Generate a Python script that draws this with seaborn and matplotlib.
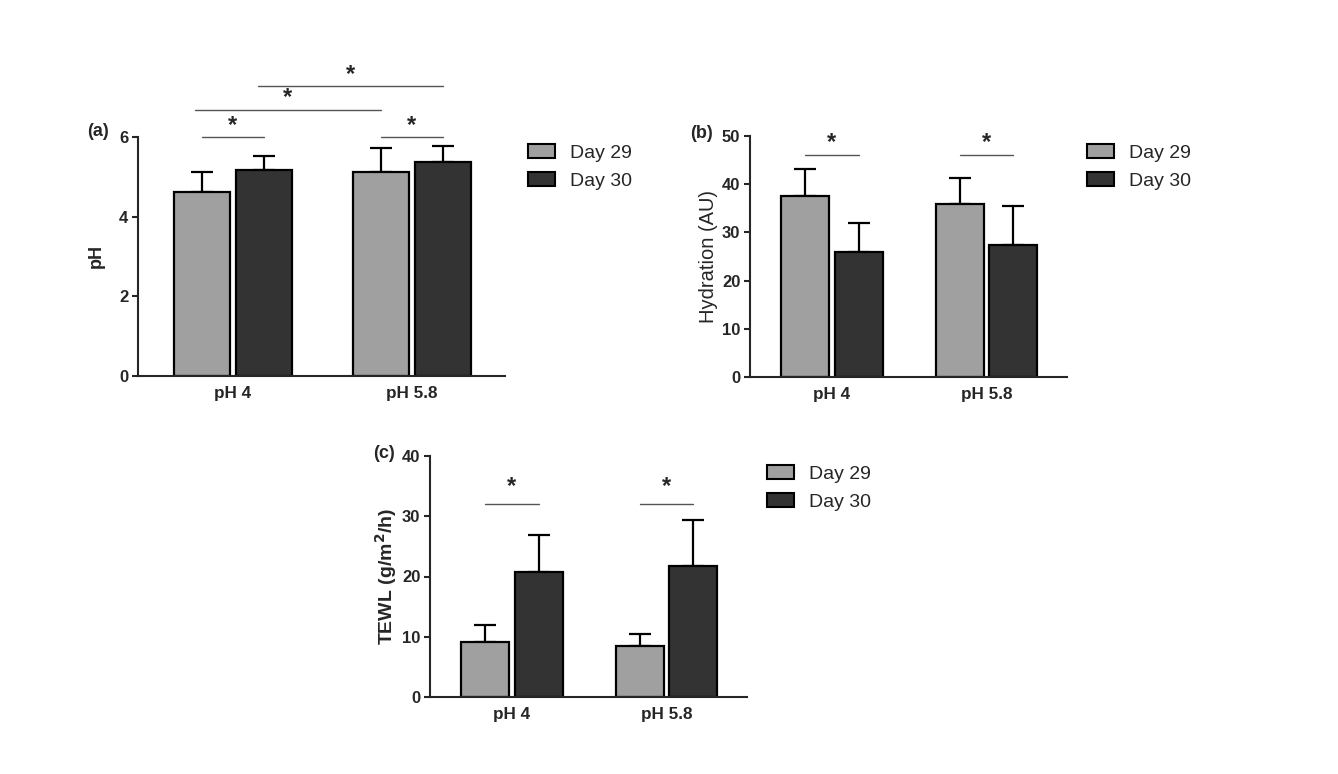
import numpy as np
import pandas as pd
import matplotlib
matplotlib.use("Agg")
import matplotlib.pyplot as plt
from matplotlib.patches import Patch
import seaborn as sns

# ---- data ----
groups = ["pH 4", "pH 5.8"]
days = ["Day 29", "Day 30"]

ph_mean_d29 = [4.62, 5.13]
ph_mean_d30 = [5.17, 5.37]
ph_err_d29 = [0.49, 0.60]
ph_err_d30 = [0.35, 0.40]

hyd_mean_d29 = [37.6, 35.9]
hyd_mean_d30 = [25.9, 27.4]
hyd_err_d29 = [5.5, 5.4]
hyd_err_d30 = [6.0, 8.1]

tewl_mean_d29 = [9.2, 8.5]
tewl_mean_d30 = [20.7, 21.7]
tewl_err_d29 = [2.8, 2.0]
tewl_err_d30 = [6.2, 7.7]

ph_ticks = [0, 2, 4, 6]
hyd_ticks = [0, 10, 20, 30, 40, 50]
tewl_ticks = [0, 10, 20, 30, 40]

sns.set_style("ticks")
plt.rcParams["font.family"] = ["Liberation Sans", "DejaVu Sans"]

GREY = "#a0a0a0"
DARK = "#333333"
W, H = 1338, 774

fig = plt.figure(figsize=(W / 100, H / 100), dpi=100)


def px_axes(left, top, right, bottom):
    return fig.add_axes([left / W, 1 - bottom / H, (right - left) / W, (bottom - top) / H])


def make_df(m29, m30, e29, e30):
    rows = []
    for i, g in enumerate(groups):
        rows.append(dict(group=g, day=days[0], value=m29[i], err=e29[i]))
        rows.append(dict(group=g, day=days[1], value=m30[i], err=e30[i]))
    return pd.DataFrame(rows)


def draw_panel(ax, df, ymax, ticks, ylabel, ylabel_weight, ylabel_size, labelpad):
    sns.barplot(data=df, x="group", y="value", hue="day", order=groups, hue_order=days,
                palette=[GREY, DARK], width=0.69, gap=0.1, errorbar=None,
                edgecolor="black", linewidth=1.6, legend=False, ax=ax, zorder=2)
    centers = {}
    bar_conts = list(ax.containers)
    for di, cont in enumerate(bar_conts):
        sub = df[df["day"] == days[di]].set_index("group").loc[groups]
        xs = [b.get_x() + b.get_width() / 2 for b in cont]
        for gi, g in enumerate(groups):
            centers[(g, days[di])] = xs[gi]
        ax.errorbar(xs, sub["value"].values, yerr=[np.zeros(len(xs)), sub["err"].values],
                    fmt="none", ecolor="black", elinewidth=1.6, capsize=8, capthick=1.6, zorder=1)
    ax.set_ylim(0, ymax)
    ax.set_xlim(-0.53, 1.52)
    ax.set_yticks(ticks)
    ax.set_yticklabels([str(t) for t in ticks], fontsize=12, fontweight="bold")
    ax.set_xticks([0, 1])
    ax.set_xticklabels(groups, fontsize=12.3, fontweight="bold")
    ax.tick_params(axis="x", length=0, pad=7)
    ax.tick_params(axis="y", length=4, width=1.5, pad=3)
    ax.set_xlabel("")
    ax.set_ylabel(ylabel, fontsize=ylabel_size, fontweight=ylabel_weight, labelpad=labelpad)
    for s in ["top", "right"]:
        ax.spines[s].set_visible(False)
    for s in ["left", "bottom"]:
        ax.spines[s].set_linewidth(1.5)
    return centers


def sig(ax, x1, x2, y, dy):
    ax.plot([x1, x2], [y, y], color="#555555", lw=1.0, clip_on=False)
    ax.text((x1 + x2) / 2, y + dy, "*", ha="center", va="center", fontsize=17,
            fontweight="bold", clip_on=False)


def legend(ax, left_px, top_px):
    handles = [Patch(facecolor=GREY, edgecolor="black", linewidth=1.5),
               Patch(facecolor=DARK, edgecolor="black", linewidth=1.5)]
    ax.legend(handles, days, loc="upper left", bbox_to_anchor=(left_px / W, 1 - top_px / H),
              bbox_transform=fig.transFigure, frameon=False, borderpad=0, borderaxespad=0,
              fontsize=14, handlelength=1.4, handleheight=0.7, handletextpad=0.75,
              labelspacing=0.55)


# Panel (a)
axa = px_axes(138, 137, 505, 376)
ca = draw_panel(axa, make_df(ph_mean_d29, ph_mean_d30, ph_err_d29, ph_err_d30),
                6, ph_ticks, "pH", "bold", 13, 10)
sig(axa, ca[("pH 4", "Day 29")], ca[("pH 4", "Day 30")], 6.0, 0.3)
sig(axa, ca[("pH 5.8", "Day 29")], ca[("pH 5.8", "Day 30")], 6.0, 0.3)
sig(axa, ca[("pH 4", "Day 29")] - 0.04, ca[("pH 5.8", "Day 29")], 6.69, 0.3)
sig(axa, ca[("pH 4", "Day 30")] - 0.03, ca[("pH 5.8", "Day 30")], 7.27, 0.3)
legend(axa, 528, 144)
fig.text(87 / W, 1 - 132 / H, "(a)", fontsize=13, fontweight="bold", ha="left", va="center")

# Panel (b)
axb = px_axes(750, 136, 1067, 377)
cb = draw_panel(axb, make_df(hyd_mean_d29, hyd_mean_d30, hyd_err_d29, hyd_err_d30),
                50, hyd_ticks, "Hydration (AU)", "normal", 14.5, 3)
sig(axb, cb[("pH 4", "Day 29")], cb[("pH 4", "Day 30")], 46.1, 2.5)
sig(axb, cb[("pH 5.8", "Day 29")], cb[("pH 5.8", "Day 30")], 46.1, 2.5)
legend(axb, 1087, 144)
fig.text(690 / W, 1 - 134 / H, "(b)", fontsize=13, fontweight="bold", ha="left", va="center")

# Panel (c)
axc = px_axes(430, 456, 747, 697)
cc = draw_panel(axc, make_df(tewl_mean_d29, tewl_mean_d30, tewl_err_d29, tewl_err_d30),
                40, tewl_ticks, "TEWL (g/m$\\mathbf{^2}$/h)", "bold", 14, 2)
sig(axc, cc[("pH 4", "Day 29")], cc[("pH 4", "Day 30")], 32.0, 2.9)
sig(axc, cc[("pH 5.8", "Day 29")], cc[("pH 5.8", "Day 30")], 32.0, 2.9)
legend(axc, 767, 465)
fig.text(373 / W, 1 - 454 / H, "(c)", fontsize=13, fontweight="bold", ha="left", va="center")

fig.savefig("out.png", dpi=100, facecolor="white")
